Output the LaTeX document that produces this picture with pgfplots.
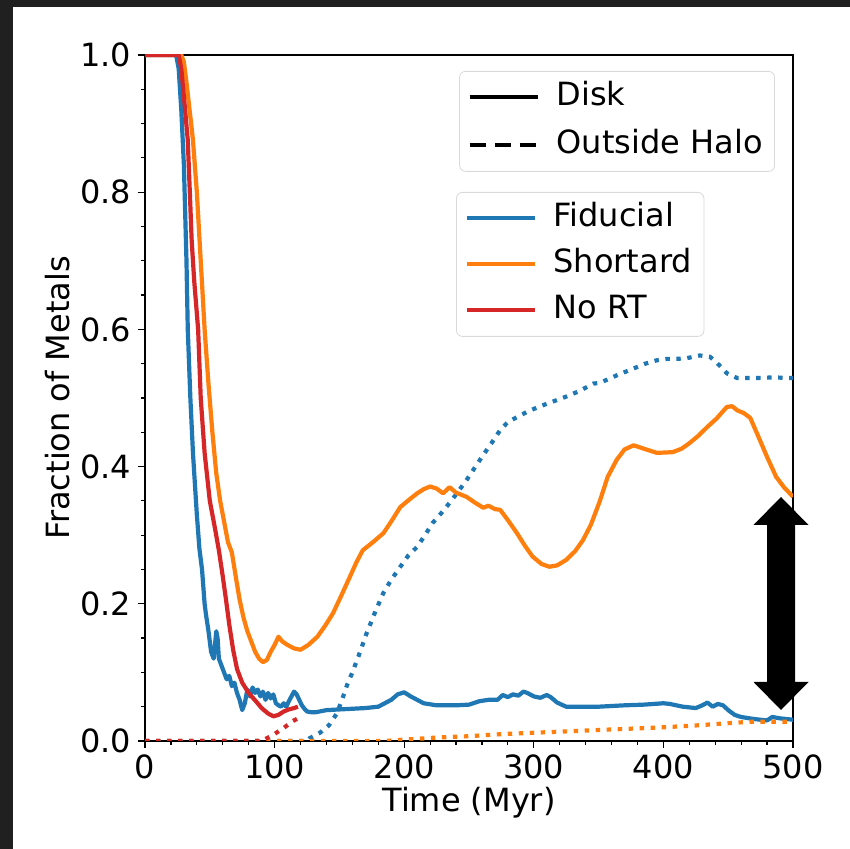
\documentclass[border=0pt]{standalone}
\usepackage{fontspec}
\setmainfont{DejaVu Sans}
\usepackage{pgfplots}
\pgfplotsset{compat=1.18}
\definecolor{tblue}{HTML}{1F77B4}
\definecolor{torange}{HTML}{FF7F0E}
\definecolor{tred}{HTML}{D62728}
\definecolor{darkbg}{HTML}{202020}
\begin{document}
\begin{tikzpicture}
\useasboundingbox (-72.5pt,-54pt) rectangle (352.5pt,370.5pt);
\fill[white] (-72.5pt,-54pt) rectangle (352.5pt,370.5pt);
\fill[darkbg] (-72.5pt,-54pt) rectangle (-66pt,370.5pt);
\fill[darkbg] (-72.5pt,367pt) rectangle (352.5pt,370.5pt);
\pgfplotsset{
  every axis/.append style={font=\fontsize{16}{19}\selectfont},
  dotline/.style={line width=2.1pt, dash pattern=on 2.2pt off 3.3pt},
  solline/.style={line width=2.1pt, line join=round},
}
\begin{axis}[
  at={(0,0)}, anchor=south west,
  scale only axis, width=324pt, height=343pt,
  xmin=0, xmax=500, ymin=0, ymax=1,
  xtick={0,100,200,300,400,500},
  ytick={0,0.2,0.4,0.6,0.8,1.0},
  minor x tick num=4, minor y tick num=3,
  tick align=outside, tick pos=left,
  major tick length=3.5pt, minor tick length=2pt,
  every tick/.style={black, line width=0.6pt},
  axis line style={line width=0.6pt},
  /pgf/number format/assume math mode=true,
  yticklabel style={/pgf/number format/.cd, fixed, fixed zerofill, precision=1},
  xticklabel style={/pgf/number format/.cd, fixed, precision=0},
  xlabel={Time (Myr)}, ylabel={Fraction of Metals},
  xlabel style={yshift=3pt},
  ylabel style={yshift=-2pt},
  legend cell align=left,
  legend style={at={(rel axis cs:0.48,0.8003)}, anchor=north west,
    draw=black!15, rounded corners=3pt, fill=white, fill opacity=0.8, text opacity=1,
    inner xsep=4pt, inner ysep=3pt, row sep=3pt,
    nodes={text height=12pt, text depth=4pt, inner sep=2pt}},
  legend image code/.code={\draw[#1] (0pt,0pt) -- (34pt,0pt); \path[draw=none,fill=none] (0pt,0pt) -- (41.5pt,0pt);},
]
\addplot[tblue, solline, forget plot] coordinates {
(0,1.0)(24,1.0)(26,0.98)(28,0.92)(30,0.84)(32,0.70)(33,0.60)(35,0.50)(37,0.42)(40,0.33)(42,0.28)(44,0.25)(46,0.20)(47,0.185)(49,0.16)(51,0.13)(53,0.12)(55,0.16)(56,0.15)(57,0.12)(59,0.11)(61,0.10)(63,0.09)(65,0.095)(67,0.08)(69,0.085)(71,0.07)(73,0.06)(75,0.045)(77,0.055)(79,0.075)(81,0.065)(83,0.078)(85,0.07)(87,0.075)(89,0.065)(91,0.072)(93,0.06)(95,0.07)(97,0.062)(99,0.068)(101,0.055)(103,0.052)(105,0.05)(107,0.055)(109,0.05)(111,0.058)(113,0.065)(115,0.072)(117,0.068)(119,0.06)(121,0.052)(123,0.047)(125,0.043)(128,0.042)(132,0.042)(140,0.045)(150,0.046)(160,0.047)(170,0.048)(180,0.05)(190,0.06)(195,0.068)(200,0.071)(205,0.065)(210,0.06)(215,0.055)(225,0.052)(240,0.052)(250,0.053)(258,0.058)(265,0.06)(272,0.06)(276,0.067)(280,0.064)(284,0.068)(288,0.066)(292,0.072)(295,0.07)(300,0.065)(305,0.063)(310,0.067)(313,0.064)(318,0.056)(325,0.05)(335,0.05)(350,0.05)(370,0.052)(385,0.053)(400,0.055)(405,0.054)(415,0.05)(425,0.048)(430,0.052)(434,0.056)(438,0.05)(442,0.054)(446,0.052)(450,0.045)(455,0.038)(460,0.035)(470,0.032)(480,0.03)(484,0.035)(490,0.033)(500,0.031)
};
\addplot[tblue, dotline, forget plot] coordinates {
(0,0)(125,0)(127,0.004)(135,0.012)(142,0.023)(148,0.04)(152,0.06)(156,0.082)(160,0.1)(165,0.125)(171,0.157)(178,0.19)(184,0.216)(190,0.235)(197,0.254)(203,0.27)(210,0.283)(216,0.3)(222,0.318)(229,0.333)(235,0.347)(241,0.362)(248,0.38)(255,0.4)(261,0.417)(268,0.436)(274,0.453)(280,0.465)(287,0.472)(295,0.48)(305,0.488)(315,0.495)(325,0.502)(335,0.51)(346,0.521)(351,0.522)(364,0.533)(377,0.543)(386,0.55)(395,0.555)(403,0.557)(410,0.557)(418,0.558)(428,0.562)(436,0.56)(443,0.548)(449,0.536)(457,0.529)(470,0.529)(485,0.53)(500,0.529)
};
\addplot[torange, solline, forget plot] coordinates {
(0,1.0)(28,1.0)(30,0.99)(32,0.96)(35,0.91)(37,0.876)(40,0.80)(43,0.70)(46,0.60)(49,0.52)(52,0.45)(55,0.39)(58,0.35)(61,0.32)(64,0.29)(67,0.275)(70,0.24)(73,0.206)(76,0.18)(79,0.16)(82,0.145)(85,0.13)(88,0.12)(91,0.115)(94,0.118)(97,0.13)(100,0.14)(103,0.152)(106,0.145)(110,0.14)(115,0.135)(120,0.133)(126,0.14)(133,0.152)(139,0.168)(145,0.186)(151,0.21)(158,0.239)(163,0.26)(168,0.278)(176,0.29)(184,0.303)(190,0.32)(197,0.341)(204,0.352)(210,0.361)(215,0.367)(220,0.371)(225,0.368)(230,0.361)(235,0.37)(240,0.362)(248,0.356)(255,0.347)(261,0.34)(265,0.343)(270,0.338)(274,0.337)(280,0.322)(287,0.303)(293,0.285)(299,0.269)(306,0.258)(312,0.254)(318,0.256)(325,0.264)(332,0.277)(338,0.293)(344,0.315)(351,0.35)(357,0.385)(364,0.41)(370,0.425)(377,0.431)(385,0.426)(395,0.42)(407,0.421)(414,0.426)(420,0.434)(427,0.445)(434,0.458)(441,0.47)(449,0.487)(453,0.488)(457,0.482)(462,0.478)(467,0.471)(473,0.445)(480,0.414)(487,0.385)(493,0.37)(500,0.356)
};
\addplot[torange, dotline, forget plot] coordinates {
(0,0)(185,0)(200,0.002)(225,0.005)(250,0.007)(275,0.01)(300,0.012)(325,0.014)(350,0.016)(375,0.018)(400,0.02)(428,0.023)(450,0.026)(467,0.028)(480,0.028)(500,0.028)
};
\addplot[tred, solline, forget plot] coordinates {
(0,1.0)(26,1.0)(28,0.98)(30,0.94)(33,0.876)(35,0.78)(36,0.73)(38,0.67)(41,0.60)(43,0.50)(46,0.42)(50,0.35)(54,0.31)(57,0.278)(60,0.24)(62.5,0.206)(65,0.17)(68,0.133)(71,0.105)(75,0.085)(80,0.07)(86,0.057)(90,0.048)(95,0.04)(99,0.036)(103,0.038)(107,0.043)(111,0.046)(115,0.048)(118,0.05)
};
\addplot[tred, dotline, forget plot] coordinates {
(0,0)(90,0)(91,0.001)(99,0.009)(107,0.019)(114,0.029)(118,0.033)
};
\addlegendimage{tblue, line width=2.1pt}
\addlegendentry{Fiducial}
\addlegendimage{torange, line width=2.1pt}
\addlegendentry{Shortard}
\addlegendimage{tred, line width=2.1pt}
\addlegendentry{No RT}
\end{axis}
\begin{axis}[
  at={(0,0)}, anchor=south west,
  scale only axis, width=324pt, height=343pt,
  xmin=0, xmax=500, ymin=0, ymax=1,
  hide axis,
  legend cell align=left,
  legend style={at={(rel axis cs:0.9722,0.9767)}, anchor=north east,
    draw=black!15, rounded corners=3pt, fill=white, fill opacity=0.8, text opacity=1,
    inner xsep=4pt, inner ysep=3pt, row sep=4pt,
    nodes={text height=12pt, text depth=4pt, inner sep=2pt}},
  legend image code/.code={\draw[#1] (0pt,0pt) -- (34pt,0pt); \path[draw=none,fill=none] (0pt,0pt) -- (41.5pt,0pt);},
]
\addlegendimage{black, line width=2.1pt}
\addlegendentry{Disk}
\addlegendimage{black, line width=2.1pt, dash pattern=on 8pt off 4.5pt}
\addlegendentry{Outside Halo}
\end{axis}
\fill[black] (318pt,122pt) -- (331.75pt,108pt) -- (325pt,108pt) -- (325pt,29.5pt) -- (331.75pt,29.5pt) -- (318pt,15.5pt) -- (304.25pt,29.5pt) -- (311pt,29.5pt) -- (311pt,108pt) -- (304.25pt,108pt) -- cycle;
\end{tikzpicture}
\end{document}
